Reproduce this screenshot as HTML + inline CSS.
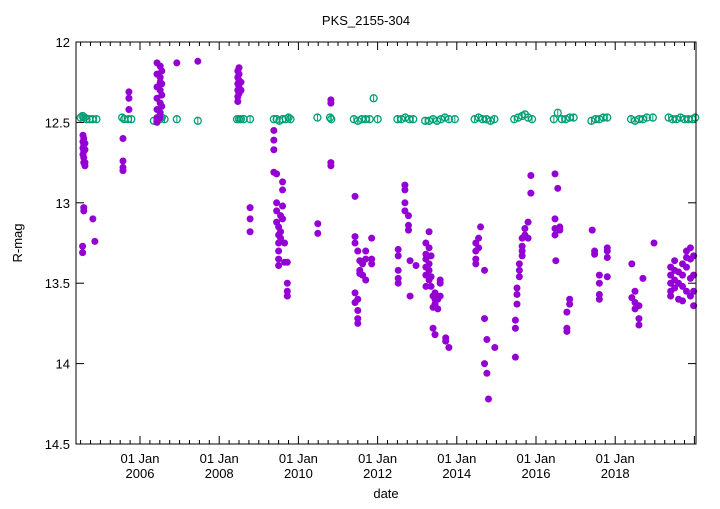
<!DOCTYPE html>
<html><head><meta charset="utf-8"><style>
body{margin:0;background:#fff;}
svg text{font-family:"Liberation Sans",sans-serif;fill:#000;}
</style></head><body>
<svg id="chart" width="720" height="504" viewBox="0 0 720 504" xmlns="http://www.w3.org/2000/svg">
<text x="366" y="25" font-size="13" text-anchor="middle">PKS_2155-304</text>
<text x="0" y="0" font-size="13" text-anchor="middle" transform="translate(22,243) rotate(-90)">R-mag</text>
<text x="386" y="498" font-size="13" text-anchor="middle">date</text>
<g id="axes"></g>
<g id="green"></g>
<g id="purple"></g>
<rect x="76" y="42" width="620" height="402" fill="none" stroke="#000" stroke-width="1"/>
</svg>
<script>
const yTicks=[12,12.5,13,13.5,14,14.5];
const yTickLabels=["12","12.5","13","13.5","14","14.5"];
const xTickYears=[2006,2008,2010,2012,2014,2016,2018];
const xTickLabels=["2006","2008","2010","2012","2014","2016","2018"];
// purple (R-band) series: [year, mags]
const purpleGroups=[
[2004.56,[12.58,12.62,12.66,12.70]],[2004.58,[12.6,12.64,12.68,12.72,12.75,13.03,13.05]],[2004.61,[12.63,12.67,12.77,12.75]],[2004.55,[13.27,13.31]],[2004.81,[13.1]],[2004.86,[13.24]],
[2005.57,[12.6,12.74,12.78,12.8]],[2005.72,[12.31,12.35,12.42]],
[2006.43,[12.13,12.2,12.28,12.35,12.42,12.47,12.5]],[2006.51,[12.15,12.22,12.25,12.3,12.38,12.44,12.47]],[2006.55,[12.18,12.26,12.33,12.4]],[2006.93,[12.13]],[2007.46,[12.12]],
[2008.47,[12.18,12.22,12.26,12.3,12.34,12.37]],[2008.5,[12.16,12.2,12.24,12.28,12.32]],[2008.55,[12.25,12.3]],[2008.78,[13.03,13.1,13.18]],
[2009.38,[12.55,12.61,12.67,12.81]],[2009.45,[12.82,13.0,13.05,13.12]],[2009.5,[13.15,13.2,13.25,13.3,13.35,13.39]],[2009.55,[13.08,13.18,13.22]],[2009.6,[12.87,12.92,13.02,13.1]],[2009.65,[13.25,13.37]],[2009.72,[13.37,13.5,13.55,13.58]],
[2010.49,[13.13,13.19]],[2010.82,[12.36,12.38,12.75,12.77]],
[2011.43,[12.96,13.21,13.25,13.56,13.62]],[2011.5,[13.3,13.6,13.67,13.72,13.75]],[2011.55,[13.36,13.42,13.44]],[2011.62,[13.38,13.45]],[2011.7,[13.3,13.35,13.48]],[2011.85,[13.22,13.35,13.38]],
[2012.52,[13.29,13.33,13.42,13.47,13.5]],[2012.69,[12.89,12.92,13.0,13.05]],[2012.78,[13.08,13.14,13.17]],[2012.82,[13.36,13.58]],[2012.97,[13.39]],
[2013.22,[13.25,13.32,13.35,13.4,13.45,13.52]],[2013.3,[13.18,13.28,13.38,13.42,13.48]],[2013.35,[13.33,13.46,13.52]],[2013.4,[13.58,13.65,13.78]],[2013.45,[13.56,13.6,13.63,13.82]],[2013.52,[13.6,13.66]],[2013.58,[13.48,13.5,13.58]],[2013.72,[13.84,13.86]],[2013.8,[13.9]],
[2014.48,[13.3,13.35,13.38,13.25]],[2014.55,[13.22,13.28]],[2014.6,[13.15]],[2014.7,[13.42,13.72,14.0]],[2014.76,[13.85,14.06]],[2014.8,[14.22]],[2014.96,[13.9]],
[2015.48,[13.96,13.78,13.73]],[2015.52,[13.63,13.57,13.53]],[2015.58,[13.46,13.42,13.38]],[2015.65,[13.33,13.3,13.27,13.22]],[2015.72,[13.2,13.16]],[2015.8,[13.22,13.12]],[2015.87,[12.83,12.94]],
[2016.48,[12.82,13.1,13.16,13.2]],[2016.55,[12.91]],[2016.5,[13.36]],[2016.6,[13.15,13.17]],[2016.78,[13.68,13.8,13.78]],[2016.85,[13.6,13.63]],
[2017.42,[13.17]],[2017.48,[13.3,13.32]],[2017.6,[13.45,13.5,13.57,13.6]],[2017.8,[13.28,13.3,13.34,13.46]],
[2018.42,[13.38,13.59]],[2018.5,[13.55,13.62,13.66]],[2018.6,[13.72,13.76,13.64]],[2018.7,[13.47]],[2018.98,[13.25]],
[2019.4,[13.4,13.45,13.5,13.55,13.58]],[2019.5,[13.36,13.42,13.48,13.53]],[2019.6,[13.43,13.5,13.6]],[2019.7,[13.38,13.45,13.52,13.61]],[2019.8,[13.3,13.34,13.4,13.55]],[2019.9,[13.28,13.35,13.47,13.58]],[2019.98,[13.33,13.45,13.55,13.64]]
];
// green (comparison star) series
const greenYears=[2004.5,2004.55,2004.6,2004.65,2004.72,2004.8,2004.9,2005.55,2005.6,2005.7,2005.78,2006.35,2006.45,2006.5,2006.55,2006.62,2006.93,2007.46,2008.45,2008.5,2008.55,2008.62,2008.78,2009.38,2009.45,2009.52,2009.6,2009.68,2009.75,2009.8,2010.48,2010.8,2010.83,2011.4,2011.5,2011.6,2011.7,2011.8,2011.9,2012.0,2012.5,2012.6,2012.7,2012.8,2012.9,2013.2,2013.3,2013.4,2013.5,2013.6,2013.7,2013.8,2013.95,2014.45,2014.55,2014.65,2014.75,2014.85,2014.95,2015.45,2015.55,2015.65,2015.72,2015.8,2015.9,2016.45,2016.55,2016.65,2016.75,2016.85,2016.95,2017.4,2017.5,2017.6,2017.7,2017.8,2018.4,2018.5,2018.6,2018.7,2018.8,2018.95,2019.35,2019.45,2019.55,2019.65,2019.75,2019.85,2019.95,2020.02];
const greenMags=[12.47,12.46,12.47,12.48,12.48,12.48,12.48,12.47,12.48,12.48,12.48,12.49,12.48,12.48,12.47,12.48,12.48,12.49,12.48,12.48,12.48,12.48,12.48,12.48,12.48,12.49,12.48,12.48,12.47,12.48,12.47,12.47,12.48,12.48,12.49,12.48,12.48,12.48,12.35,12.48,12.48,12.48,12.47,12.48,12.48,12.49,12.49,12.48,12.49,12.48,12.47,12.48,12.48,12.48,12.47,12.48,12.48,12.49,12.48,12.48,12.47,12.46,12.45,12.47,12.48,12.48,12.44,12.48,12.48,12.47,12.47,12.49,12.48,12.48,12.47,12.47,12.48,12.49,12.48,12.48,12.47,12.47,12.47,12.48,12.48,12.47,12.48,12.48,12.48,12.47];

const X0=76,X1=696,Y0=42,Y1=444;
function xs(yr){return 140+(yr-2006)*39.6;}
function ys(m){return Y0+(m-12)/2.5*(Y1-Y0);}
const NS="http://www.w3.org/2000/svg";
function mk(tag,attrs,parent){const e=document.createElementNS(NS,tag);for(const k in attrs)e.setAttribute(k,attrs[k]);parent.appendChild(e);return e;}
const axes=document.getElementById('axes');
yTicks.forEach((v,i)=>{
  const y=ys(v);
  const t=mk('line',{x1:X0,x2:X0+8,y1:y,y2:y,stroke:'#000'},axes);
  
  
  const t2=mk('line',{x1:X1-8,x2:X1,y1:y,y2:y,stroke:'#000'},axes);
  
  
  const l=mk('text',{x:X0-6,y:y+5,'font-size':'13','text-anchor':'end'},axes);
  l.textContent=yTickLabels[i];
  
  
});
for(let q=2004.25;q<=2020.1;q+=0.25){
  const x=xs(q);if(x<X0+1||x>X1-1)continue;
  const major=Math.abs(q-Math.round(q))<1e-6&&Math.round(q)%2===0;
  const len=major?8:4;
  const a=mk('line',{x1:x,x2:x,y1:Y1,y2:Y1-len,stroke:'#000'},axes);
  
  
  const b=mk('line',{x1:x,x2:x,y1:Y0,y2:Y0+len,stroke:'#000'},axes);
  
  
}
xTickYears.forEach((yr,i)=>{
  const x=xs(yr);
  const l1=mk('text',{x:x,y:463,'font-size':'13','text-anchor':'middle'},axes);
  l1.textContent='01 Jan';
  
  
  const l2=mk('text',{x:x,y:478,'font-size':'13','text-anchor':'middle'},axes);
  l2.textContent=xTickLabels[i];
  
  
});
const g=document.getElementById('green');
greenYears.forEach((yr,i)=>{
  const x=xs(yr),y=ys(greenMags[i]);
  const c=mk('circle',{cx:x,cy:y,r:3.5,fill:'none',stroke:'#009e73','stroke-width':1.3},g);
  
  
  mk('line',{x1:x,x2:x,y1:y-3,y2:y+3,stroke:'#009e73','stroke-width':1},g);
});
const p=document.getElementById('purple');
purpleGroups.forEach(gr=>{
  gr[1].forEach(m=>{
    const c=mk('circle',{cx:xs(gr[0]),cy:ys(m),r:3.5,fill:'#9400d3'},p);
    
    
  });
});
</script>
</body></html>
